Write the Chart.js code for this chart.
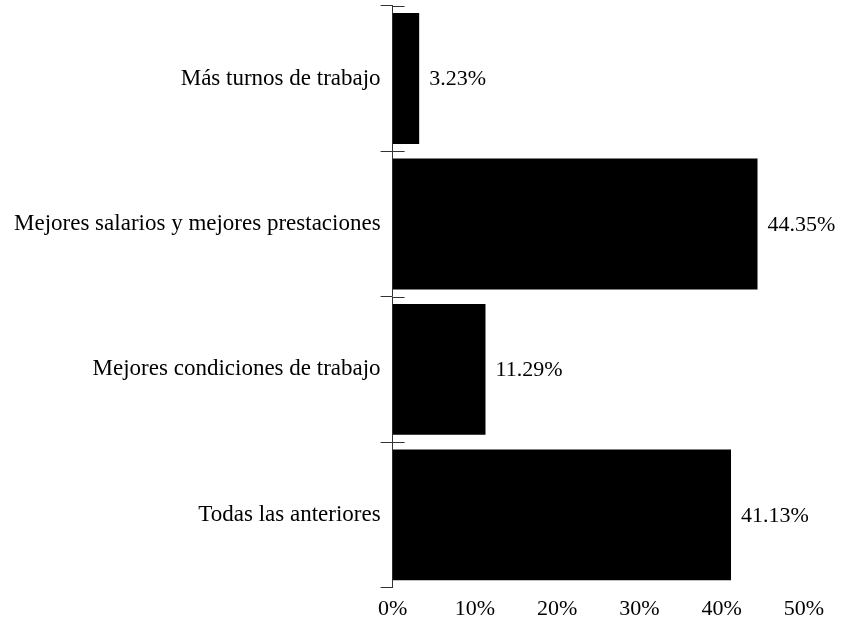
<!DOCTYPE html>
<html>
<head>
<meta charset="utf-8">
<script src="https://cdn.jsdelivr.net/npm/chart.js@4/dist/chart.umd.min.js"></script>
<style>
html,body{margin:0;padding:0;background:#fff;}
#wrap{width:847px;height:627px;}
</style>
</head>
<body>
<div id="wrap"><canvas id="c" width="847" height="627"></canvas></div>
<script>
const categories = ["Más turnos de trabajo", "Mejores salarios y mejores prestaciones", "Mejores condiciones de trabajo", "Todas las anteriores"];
const values = [3.23, 44.35, 11.29, 41.13];
const valueLabels = ["3.23%", "44.35%", "11.29%", "41.13%"];
const xTicks = [0, 10, 20, 30, 40, 50];

const FONT = "'Liberation Serif', 'Times New Roman', serif";

const valueLabelPlugin = {
  id: 'valueLabels',
  afterDatasetsDraw(chart) {
    const ctx = chart.ctx;
    const meta = chart.getDatasetMeta(0);
    ctx.save();
    ctx.font = "22px " + FONT;
    ctx.fillStyle = "#000";
    ctx.textAlign = "left";
    ctx.textBaseline = "middle";
    meta.data.forEach((bar, i) => {
      ctx.fillText(valueLabels[i], bar.x + 10, bar.y + 1);
    });
    ctx.restore();
  }
};

const crossTickPlugin = {
  id: 'crossTicks',
  afterDraw(chart) {
    const y = chart.scales.y;
    const x0 = chart.scales.x.getPixelForValue(0);
    const ctx = chart.ctx;
    const step = y.getPixelForValue(1) - y.getPixelForValue(0);
    ctx.save();
    ctx.strokeStyle = "#333";
    ctx.lineWidth = 1;
    for (let i = 0; i < categories.length; i++) {
      const yy = Math.round(y.getPixelForValue(i) - step / 2) + 0.5;
      ctx.beginPath();
      ctx.moveTo(x0, yy);
      ctx.lineTo(x0 + 12, yy);
      ctx.stroke();
    }
    ctx.restore();
  }
};

new Chart(document.getElementById('c'), {
  type: 'bar',
  data: {
    labels: categories,
    datasets: [{
      data: values,
      backgroundColor: "#000",
      borderWidth: 0,
      categoryPercentage: 0.9,
      barPercentage: 1.0
    }]
  },
  options: {
    indexAxis: 'y',
    responsive: false,
    animation: false,
    layout: { padding: { top: 0, right: 43, left: 14, bottom: -3 } },
    plugins: { legend: { display: false }, tooltip: { enabled: false } },
    scales: {
      x: {
        min: 0, max: 50,
        afterBuildTicks(scale) { scale.ticks = xTicks.map(v => ({ value: v })); },
        grid: { display: false, drawTicks: false },
        border: { display: false },
        ticks: {
          color: "#000",
          font: { family: FONT, size: 22 },
          padding: 8,
          callback: v => v + "%"
        }
      },
      y: {
        grid: { display: true, drawOnChartArea: false, offset: true, tickLength: 12, color: "#333" },
        border: { display: true, color: "#333", width: 1 },
        ticks: {
          color: "#000",
          font: { family: FONT, size: 23, lineHeight: 0.5 },
          padding: 0
        }
      }
    }
  },
  plugins: [valueLabelPlugin, crossTickPlugin]
});
</script>
</body>
</html>
